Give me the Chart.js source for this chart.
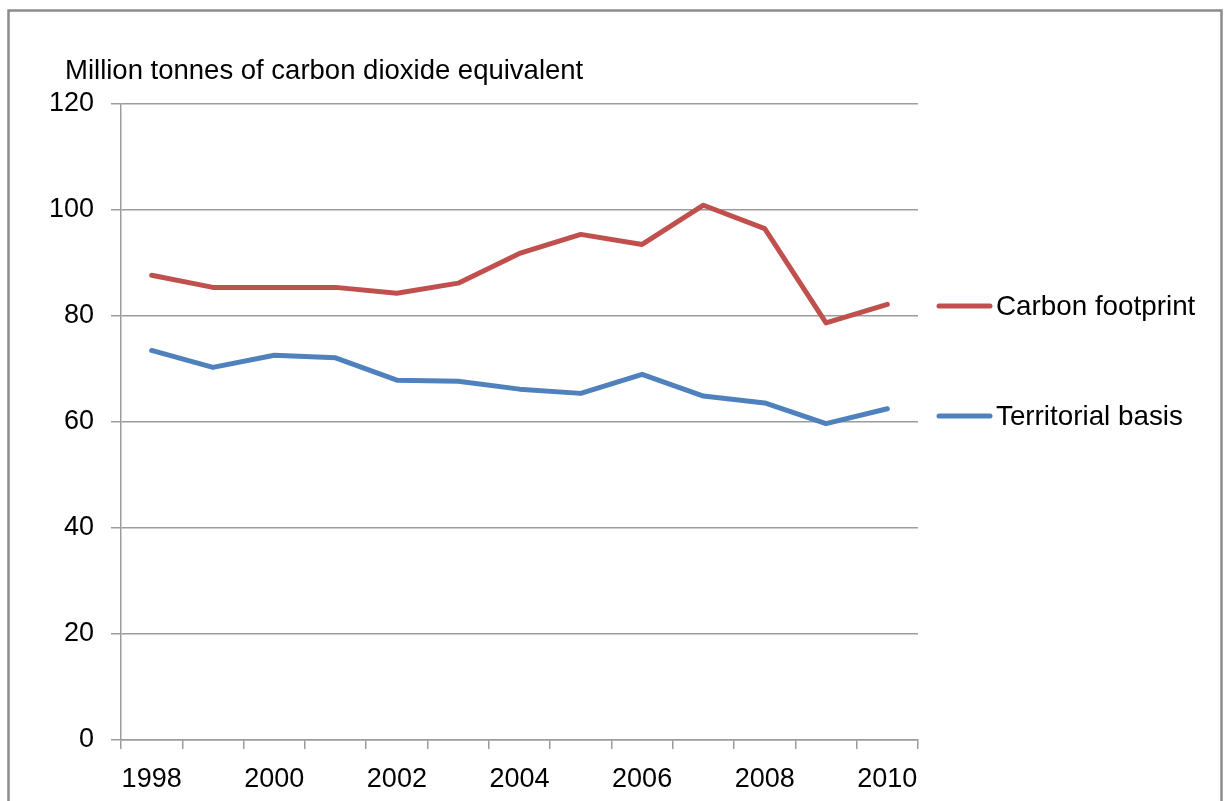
<!DOCTYPE html>
<html>
<head>
<meta charset="utf-8">
<title>Carbon footprint and territorial emissions</title>
<script src="https://cdn.jsdelivr.net/npm/chart.js@4/dist/chart.umd.min.js"></script>
<style>
  html, body { margin: 0; padding: 0; background: #ffffff; }
  #wrap { position: relative; width: 1224px; height: 801px; }
</style>
</head>
<body>
<div id="wrap"><canvas id="chart" width="1224" height="801"></canvas></div>
<script>
// Years on the category axis
const years = ['1998', '1999', '2000', '2001', '2002', '2003', '2004',
               '2005', '2006', '2007', '2008', '2009', '2010'];

// Emissions, million tonnes CO2 equivalent
const carbonFootprint = [87.7, 85.4, 85.4, 85.4, 84.3, 86.2, 91.8,
                         95.4, 93.5, 100.9, 96.5, 78.7, 82.2];
const territorialBasis = [73.5, 70.3, 72.6, 72.1, 67.9, 67.7, 66.2,
                          65.4, 69.0, 64.9, 63.6, 59.7, 62.5];

// Value axis ticks
const yTicks = [0, 20, 40, 60, 80, 100, 120];

const unitLabel = 'Million tonnes of carbon dioxide equivalent';

const FONT = '"Liberation Sans", Arial, sans-serif';
const GRID = '#9c9c9c';
const RED = '#C0504D';
const BLUE = '#4F81BD';

// Outer frame, unit label and the side legend
const decorations = {
  id: 'decorations',
  beforeDraw(chart) {
    const ctx = chart.ctx;
    ctx.save();
    ctx.fillStyle = '#ffffff';
    ctx.fillRect(0, 0, chart.width, chart.height);
    ctx.strokeStyle = '#8c8c8c';
    ctx.lineWidth = 2.5;
    ctx.strokeRect(8.5, 10.5, 1213, 900);
    ctx.restore();
  },
  afterDraw(chart) {
    const ctx = chart.ctx;
    ctx.save();
    ctx.fillStyle = '#000000';
    ctx.font = '27.5px ' + FONT;
    ctx.textAlign = 'left';
    ctx.textBaseline = 'middle';
    ctx.fillText(unitLabel, 65, 71);

    const rows = [306, 416];
    chart.data.datasets.forEach((ds, i) => {
      const y = rows[i];
      ctx.strokeStyle = ds.borderColor;
      ctx.lineWidth = 5;
      ctx.lineCap = 'round';
      ctx.beginPath();
      ctx.moveTo(939, y);
      ctx.lineTo(990, y);
      ctx.stroke();
      ctx.fillStyle = '#000000';
      ctx.font = '27.8px ' + FONT;
      ctx.textBaseline = 'middle';
      ctx.fillText(ds.label, 996, y + 1);
    });
    ctx.restore();
  }
};

new Chart(document.getElementById('chart'), {
  type: 'line',
  data: {
    labels: years,
    datasets: [
      {
        label: 'Carbon footprint',
        data: carbonFootprint,
        borderColor: RED,
        backgroundColor: RED,
        borderWidth: 5,
        pointRadius: 0,
        tension: 0,
        borderCapStyle: 'round',
        borderJoinStyle: 'round'
      },
      {
        label: 'Territorial basis',
        data: territorialBasis,
        borderColor: BLUE,
        backgroundColor: BLUE,
        borderWidth: 5,
        pointRadius: 0,
        tension: 0,
        borderCapStyle: 'round',
        borderJoinStyle: 'round'
      }
    ]
  },
  options: {
    responsive: false,
    animation: false,
    layout: { padding: { left: 0, top: 104, right: 306, bottom: 0 } },
    plugins: {
      legend: { display: false },
      tooltip: { enabled: false },
      title: { display: false }
    },
    scales: {
      x: {
        offset: true,
        grid: {
          offset: true,
          drawOnChartArea: false,
          drawTicks: true,
          tickLength: 9,
          color: GRID,
          lineWidth: 1.5
        },
        border: { display: true, color: GRID, width: 1.5 },
        ticks: {
          autoSkip: false,
          maxRotation: 0,
          minRotation: 0,
          padding: 14,
          color: '#000000',
          font: { family: FONT, size: 27 },
          callback: (v, i) => (i % 2 === 0 ? years[i] : '')
        },
        afterFit(scale) { scale.height = 61; }
      },
      y: {
        min: 0,
        max: 120,
        afterBuildTicks(scale) { scale.ticks = yTicks.map(v => ({ value: v })); },
        grid: {
          color: GRID,
          lineWidth: 1.5,
          tickLength: 10
        },
        border: { display: true, color: GRID, width: 1.5 },
        ticks: {
          padding: 17,
          color: '#000000',
          font: { family: FONT, size: 27 }
        },
        afterFit(scale) { scale.width = 121; }
      }
    }
  },
  plugins: [decorations]
});
</script>
</body>
</html>
